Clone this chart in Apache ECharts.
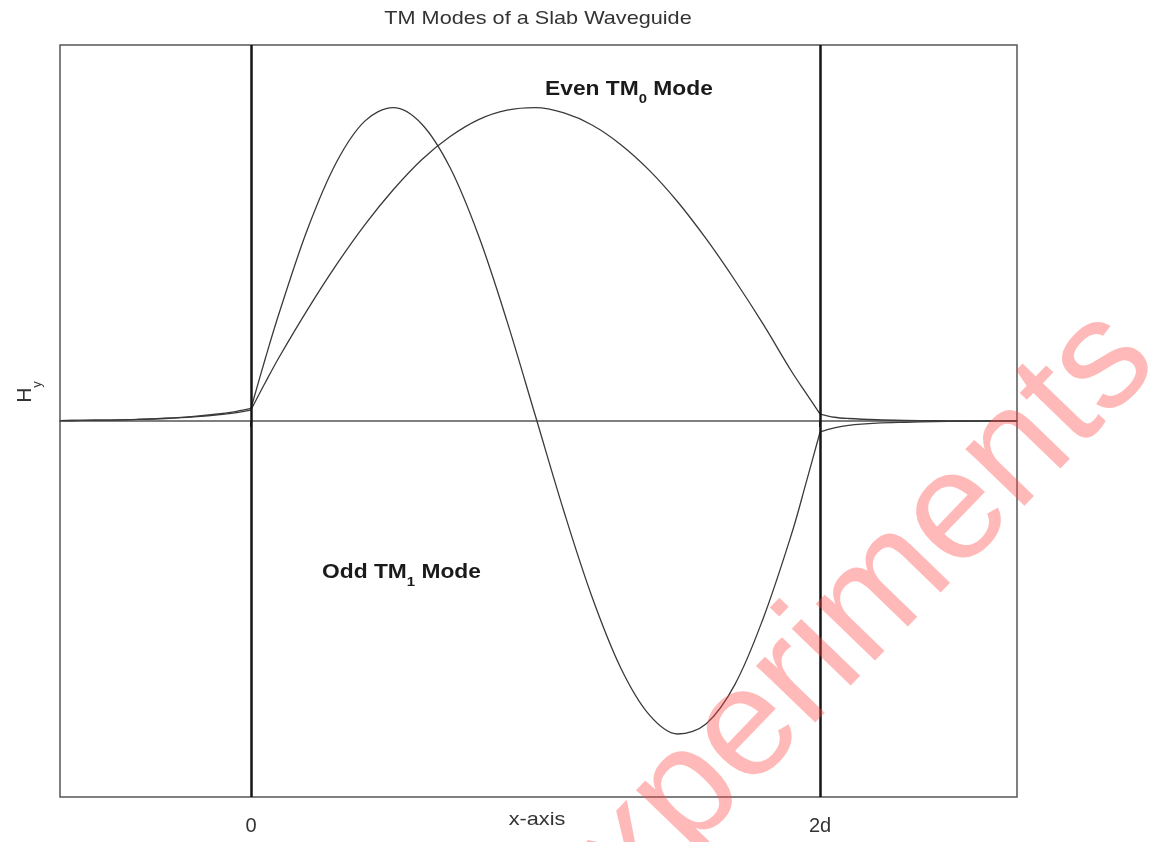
<!DOCTYPE html>
<html>
<head>
<meta charset="utf-8">
<script src="https://cdn.jsdelivr.net/npm/echarts@6/dist/echarts.min.js"></script>
<style>
  html, body { margin: 0; padding: 0; background: #ffffff; }
  #chart { width: 1152px; height: 842px; }
</style>
</head>
<body>
<div id="chart"></div>
<script>
// Positions across the slab are in units of d (core spans 0 .. 2d)
const xCore = [0, 0.05, 0.1, 0.2, 0.3, 0.4, 0.5, 0.6, 0.7, 0.8, 0.9, 1.0,
               1.1, 1.2, 1.3, 1.4, 1.5, 1.6, 1.7, 1.8, 1.9, 1.95, 2.0];
const evenCore = [0.035, 0.122, 0.205, 0.357, 0.498, 0.626, 0.738, 0.834, 0.908, 0.962, 0.992, 1.0,
                  0.983, 0.944, 0.882, 0.800, 0.699, 0.581, 0.450, 0.309, 0.158, 0.09, 0.022];
const oddCore = [0.04, 0.198, 0.347, 0.615, 0.825, 0.957, 1.0, 0.948, 0.808, 0.591, 0.318, 0.015,
                 -0.289, -0.565, -0.789, -0.938, -0.999, -0.966, -0.842, -0.63, -0.36, -0.2, -0.035];

// Evanescent tails in the cladding
const xLeft = [-0.671, -0.6, -0.5, -0.4, -0.3, -0.2, -0.1, -0.05, 0];
const evenLeft = [0.001, 0.002, 0.003, 0.005, 0.008, 0.013, 0.021, 0.027, 0.035];
const oddLeft = [0.001, 0.002, 0.003, 0.005, 0.009, 0.015, 0.024, 0.031, 0.04];

const xRight = [2.0, 2.05, 2.1, 2.2, 2.3, 2.4, 2.5, 2.692];
const evenRight = [0.022, 0.012, 0.008, 0.004, 0.002, 0.001, 0.0005, 0];
const oddRight = [-0.035, -0.022, -0.014, -0.007, -0.004, -0.002, -0.001, 0];

// Slab boundaries and their tick labels
const boundaries = [0, 2];
const boundaryLabels = ['0', '2d'];

const FONT = '"Liberation Sans", Arial, sans-serif';
const CURVE = '#3a3a3a';
const WIDE = 1.14; // horizontal stretch of the lettering

function pairs(xs, ys) {
  return xs.map((x, i) => [x, ys[i]]);
}

function curve(name, xs, ys, extra) {
  return Object.assign({
    name: name,
    type: 'line',
    data: pairs(xs, ys),
    smooth: 0.35,
    showSymbol: false,
    silent: true,
    lineStyle: { color: CURVE, width: 1.3 },
    z: 3
  }, extra || {});
}

function label(x, y, text, size, extra) {
  return Object.assign({
    type: 'text', x: x, y: y, scaleX: WIDE, z: 10,
    style: {
      text: text, fontFamily: FONT, fontSize: size, fill: '#333333',
      textAlign: 'center', textVerticalAlign: 'middle'
    }
  }, extra || {});
}

function modeLabel(x, y, main, sub) {
  return {
    type: 'text', x: x, y: y, scaleX: WIDE, z: 10,
    style: {
      text: '{m|' + main + '}{s|' + sub + '}{m| Mode}',
      textAlign: 'left', textVerticalAlign: 'middle',
      rich: {
        m: { fontFamily: FONT, fontWeight: 'bold', fontSize: 20, fill: '#1a1a1a', lineHeight: 34 },
        s: { fontFamily: FONT, fontWeight: 'bold', fontSize: 13, fill: '#1a1a1a', lineHeight: 13, verticalAlign: 'bottom' }
      }
    }
  };
}

const chart = echarts.init(document.getElementById('chart'), null, { renderer: 'canvas' });

chart.setOption({
  animation: false,
  backgroundColor: '#ffffff',
  grid: {
    left: 60, right: 135, top: 45, bottom: 45,
    outerBoundsMode: 'none',
    show: true, borderColor: '#555555', borderWidth: 1.5, backgroundColor: 'transparent'
  },
  xAxis: {
    type: 'value',
    min: -0.671, max: 2.692,
    axisLine: { show: true, lineStyle: { color: '#555555', width: 1.5 } },
    axisTick: {
      show: true, length: 6, inside: false,
      customValues: boundaries,
      lineStyle: { color: '#222222', width: 2 }
    },
    axisLabel: {
      show: true, margin: 19,
      customValues: boundaries,
      formatter: v => boundaryLabels[boundaries.indexOf(v)],
      fontFamily: FONT, fontSize: 20, color: '#333333'
    },
    splitLine: { show: false }
  },
  yAxis: {
    type: 'value',
    min: -1.2, max: 1.2,
    axisLine: { show: false },
    axisTick: { show: false },
    axisLabel: { show: false },
    splitLine: { show: false }
  },
  series: [
    curve('Even TM0 left', xLeft, evenLeft),
    curve('Even TM0', xCore, evenCore, {
      markLine: {
        silent: true,
        symbol: ['none', 'none'],
        label: { show: false },
        lineStyle: { color: '#151515', width: 2.5, type: 'solid' },
        data: boundaries.map(b => ({ xAxis: b }))
      }
    }),
    curve('Even TM0 right', xRight, evenRight),
    curve('Odd TM1 left', xLeft, oddLeft),
    curve('Odd TM1', xCore, oddCore),
    curve('Odd TM1 right', xRight, oddRight)
  ],
  graphic: [
    label(538, 19, 'TM Modes of a Slab Waveguide', 19),
    label(537, 820, 'x-axis', 19),
    {
      type: 'text', x: 25, y: 392, rotation: Math.PI / 2, z: 10,
      style: {
        text: '{h|H}{s|y}',
        textAlign: 'center', textVerticalAlign: 'middle',
        rich: {
          h: { fontFamily: FONT, fontSize: 21, fill: '#333333', lineHeight: 38 },
          s: { fontFamily: FONT, fontSize: 13, fill: '#333333', lineHeight: 12, verticalAlign: 'bottom' }
        }
      }
    },
    modeLabel(545, 89, 'Even TM', '0'),
    modeLabel(322, 572, 'Odd TM', '1'),
    {
      type: 'text', x: 1130, y: 335, rotation: 46 * Math.PI / 180, z: 20, silent: true,
      style: {
        text: 'Experiments',
        fontFamily: FONT, fontSize: 155, fill: 'rgba(255, 70, 70, 0.38)',
        textAlign: 'right', textVerticalAlign: 'middle'
      }
    }
  ]
});
</script>
</body>
</html>
